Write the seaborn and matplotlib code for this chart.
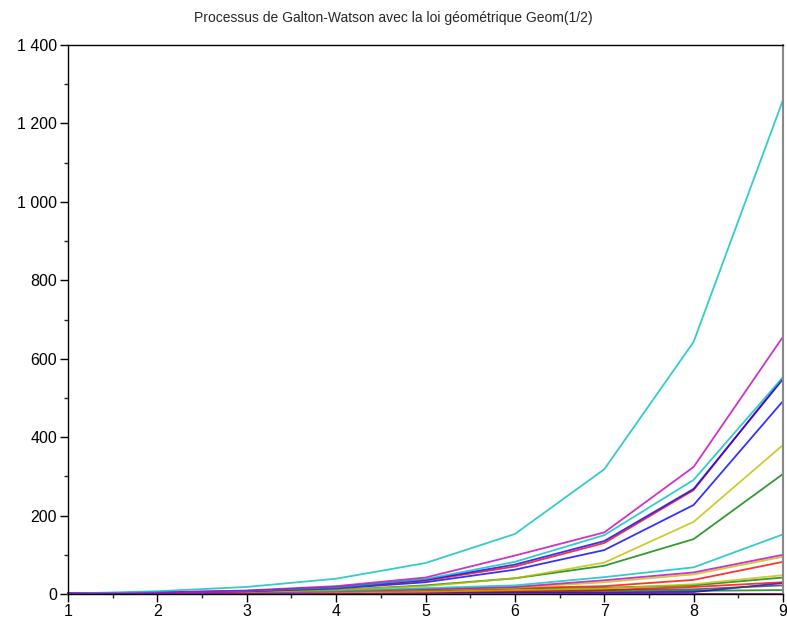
import matplotlib
matplotlib.use("Agg")
import matplotlib.pyplot as plt
import pandas as pd
import seaborn as sns
from matplotlib.ticker import MultipleLocator, FuncFormatter

# generations 1..9, population sizes of each simulated run
gens = [1, 2, 3, 4, 5, 6, 7, 8, 9]

run_cyan_top = [1, 7, 18, 39, 79, 153, 318, 643, 1260]
run_magenta = [1, 4, 9, 20, 42, 98, 157, 324, 656]
run_cyan_2 = [1, 3, 8, 17, 38, 82, 150, 291, 553]
run_red = [1, 3, 7, 16, 34, 70, 130, 265, 551]
run_blue_a = [1, 4, 8, 17, 36, 75, 135, 268, 548]
run_blue_b = [1, 3, 7, 14, 30, 62, 112, 227, 492]
run_yellow = [1, 2, 5, 10, 20, 40, 80, 184, 380]
run_green = [1, 2, 5, 10, 22, 40, 72, 140, 306]
run_teal = [1, 2, 4, 8, 15, 22, 43, 68, 152]
run_magenta_2 = [1, 2, 3, 7, 12, 18, 35, 55, 100]
run_yellow_2 = [1, 2, 3, 6, 11, 16, 30, 50, 95]
run_red_2 = [1, 2, 4, 6, 10, 15, 20, 36, 82]
run_yellow_3 = [1, 1, 2, 4, 6, 10, 14, 25, 48]
run_green_2 = [1, 2, 3, 5, 8, 12, 16, 22, 42]
run_red_3 = [1, 2, 3, 4, 6, 8, 10, 18, 30]
run_gray = [1, 2, 3, 5, 6, 8, 10, 12, 22]
run_blue_c = [1, 1, 2, 3, 4, 5, 3, 5, 28]
run_green_3 = [1, 1, 2, 2, 3, 4, 6, 8, 10]
run_yellow_4 = [1, 1, 1, 2, 3, 2, 1, 0, 0]
run_red_4 = [1, 2, 1, 1, 0, 0, 0, 0, 0]
run_blue_d = [1, 0, 0, 0, 0, 0, 0, 0, 0]
run_magenta_3 = [1, 1, 1, 0, 0, 0, 0, 0, 0]

blue = (0, 0, 1)
green = (0, 0.5, 0)
red = (1, 0, 0)
cyan = (0, 0.75, 0.75)
magenta = (0.75, 0, 0.75)
yellow = (0.75, 0.75, 0)
gray = (0.25, 0.25, 0.25)

runs = [
    (run_blue_d, blue), (run_green_3, green), (run_red_4, red),
    (run_yellow_4, yellow), (run_blue_c, blue), (run_gray, gray),
    (run_red_3, red), (run_green_2, green), (run_yellow_3, yellow),
    (run_red_2, red), (run_yellow_2, yellow), (run_magenta_2, magenta),
    (run_teal, cyan), (run_green, green), (run_yellow, yellow),
    (run_blue_b, blue), (run_red, red), (run_blue_a, blue),
    (run_cyan_2, cyan), (run_magenta, magenta), (run_cyan_top, cyan),
    (run_magenta_3, magenta),
]

rows = []
for i, (vals, _) in enumerate(runs):
    for g, v in zip(gens, vals):
        rows.append({"gen": g, "size": v, "run": i})
df = pd.DataFrame(rows)
palette = {i: c for i, (_, c) in enumerate(runs)}

sns.set_style("white")
plt.rcParams['font.family'] = ['Liberation Sans', 'DejaVu Sans']

fig = plt.figure(figsize=(7.87, 6.25), dpi=100)
ax = fig.add_axes([68 / 787, 1 - 594 / 625, 715 / 787, 549 / 625])
sns.lineplot(data=df, x="gen", y="size", hue="run", palette=palette,
             legend=False, linewidth=1.3, alpha=0.8, ax=ax, clip_on=False)

ax.set_xlim(1, 9)
ax.set_ylim(0, 1400)
ax.xaxis.set_major_locator(MultipleLocator(1))
ax.xaxis.set_minor_locator(MultipleLocator(0.5))
ax.yaxis.set_major_locator(MultipleLocator(200))
ax.yaxis.set_minor_locator(MultipleLocator(100))
ax.yaxis.set_major_formatter(FuncFormatter(lambda v, p: f"{int(v):,}".replace(",", " ")))
ax.tick_params(which="major", direction="out", length=6, width=1, labelsize=11.5,
               left=True, bottom=True, colors="black")
ax.tick_params(which="minor", direction="out", length=3, width=1,
               left=True, bottom=True)
ax.tick_params(axis="x", pad=1)
ax.tick_params(axis="y", pad=2)
for side in ["left", "bottom", "top"]:
    ax.spines[side].set_color("black")
    ax.spines[side].set_linewidth(1)
ax.spines["right"].set_color("#888888")
ax.spines["right"].set_linewidth(1.5)
ax.set_xlabel("")
ax.set_ylabel("")
fig.text(0.5, 1 - 18 / 625, "Processus de Galton-Watson avec la loi géométrique Geom(1/2)",
         ha="center", va="center", fontsize=10)

fig.savefig("out.png", dpi=100)
